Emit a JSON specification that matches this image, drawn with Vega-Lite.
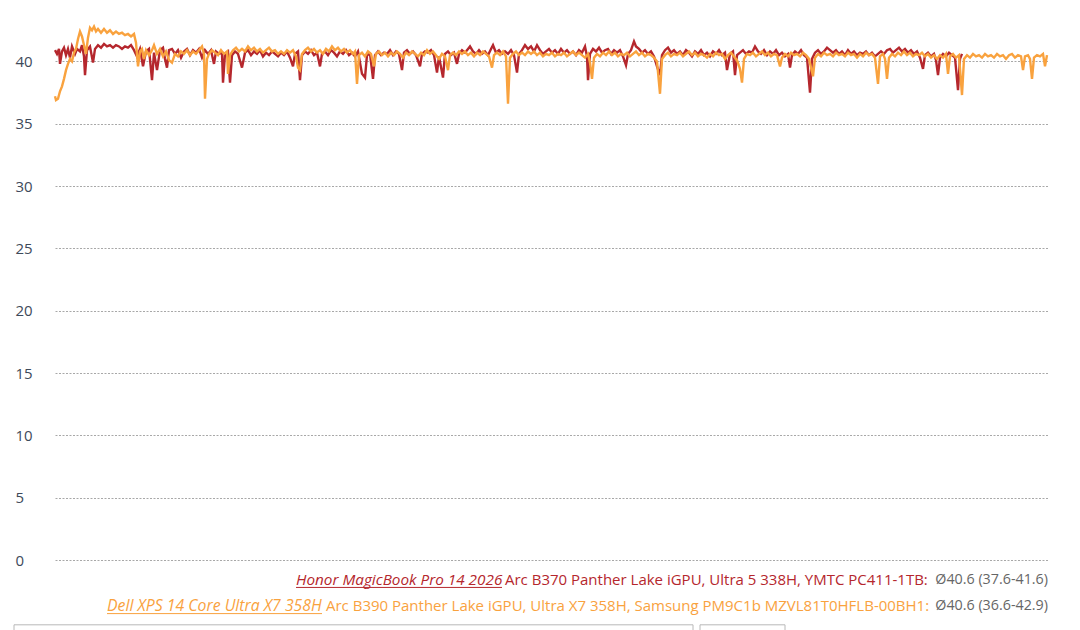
{
  "$schema": "https://vega.github.io/schema/vega-lite/v6.json",
  "width": 993,
  "height": 536,
  "autosize": {"type": "none"},
  "padding": {"left": 55, "top": 24, "right": 32, "bottom": 70},
  "background": "white",
  "config": {"view": {"stroke": null}, "font": "Open Sans"},
  "data": {"values": [{}]},
  "datasets": {
    "honor": [
      {"x":55,"y":40.9},{"x":57,"y":40.6},{"x":59,"y":41.0},{"x":60,"y":39.8},{"x":62,"y":40.8},{"x":64,"y":41.1},{"x":66,"y":40.5},{"x":68,"y":41.0},{"x":70,"y":40.3},{"x":72,"y":41.2},{"x":75,"y":40.6},{"x":77,"y":41.0},{"x":80,"y":40.8},{"x":82,"y":41.3},{"x":84,"y":40.4},{"x":85,"y":38.9},{"x":87,"y":40.9},{"x":90,"y":41.2},{"x":93,"y":39.9},{"x":95,"y":41.0},{"x":98,"y":41.3},{"x":101,"y":41.1},{"x":104,"y":41.4},{"x":107,"y":41.2},{"x":110,"y":41.3},{"x":113,"y":41.1},{"x":116,"y":41.3},{"x":119,"y":41.2},{"x":122,"y":41.0},{"x":125,"y":41.2},{"x":128,"y":41.1},{"x":131,"y":41.3},{"x":134,"y":40.9},{"x":137,"y":40.4},{"x":140,"y":41.0},{"x":143,"y":39.6},{"x":146,"y":40.8},{"x":149,"y":41.0},{"x":152,"y":38.5},{"x":154,"y":40.7},{"x":157,"y":39.3},{"x":160,"y":40.9},{"x":163,"y":41.1},{"x":165,"y":40.2},{"x":167,"y":39.5},{"x":169,"y":40.9},{"x":172,"y":41.0},{"x":175,"y":40.6},{"x":178,"y":40.9},{"x":181,"y":40.3},{"x":184,"y":40.8},{"x":187,"y":41.0},{"x":190,"y":40.5},{"x":193,"y":40.9},{"x":196,"y":40.7},{"x":199,"y":41.0},{"x":202,"y":40.3},{"x":205,"y":40.9},{"x":208,"y":40.6},{"x":211,"y":40.9},{"x":214,"y":39.8},{"x":216,"y":40.8},{"x":219,"y":40.6},
      {"x":222,"y":40.7},{"x":223,"y":38.3},{"x":225,"y":40.6},{"x":228,"y":40.8},{"x":230,"y":38.3},{"x":232,"y":40.5},{"x":235,"y":40.8},{"x":238,"y":40.6},{"x":242,"y":39.5},{"x":245,"y":40.7},{"x":248,"y":40.9},{"x":251,"y":40.5},{"x":254,"y":40.8},{"x":257,"y":40.6},{"x":260,"y":40.9},{"x":263,"y":40.4},{"x":266,"y":40.7},{"x":269,"y":40.5},{"x":272,"y":40.8},{"x":275,"y":40.6},{"x":278,"y":40.4},{"x":281,"y":40.7},{"x":284,"y":40.5},{"x":287,"y":40.8},{"x":290,"y":40.3},{"x":293,"y":39.6},{"x":295,"y":40.6},{"x":298,"y":40.8},{"x":300,"y":38.5},{"x":302,"y":40.5},{"x":305,"y":40.8},{"x":308,"y":40.6},{"x":311,"y":40.9},{"x":314,"y":40.5},{"x":317,"y":40.7},{"x":320,"y":39.6},{"x":322,"y":40.6},{"x":325,"y":40.8},{"x":328,"y":40.5},{"x":331,"y":40.9},{"x":334,"y":40.7},{"x":337,"y":40.4},{"x":340,"y":40.8},{"x":343,"y":40.6},{"x":346,"y":40.9},{"x":349,"y":40.5},{"x":352,"y":40.7},{"x":355,"y":40.4},{"x":358,"y":40.8},{"x":362,"y":39.0},{"x":365,"y":38.7},{"x":367,"y":40.5},{"x":370,"y":40.6},{"x":373,"y":38.6},{"x":375,"y":40.5},{"x":378,"y":40.8},{"x":381,"y":40.5},{"x":384,"y":40.7},
      {"x":387,"y":40.6},{"x":390,"y":40.9},{"x":393,"y":40.5},{"x":396,"y":40.8},{"x":399,"y":40.6},{"x":402,"y":39.3},{"x":404,"y":40.7},{"x":407,"y":40.9},{"x":410,"y":40.6},{"x":413,"y":40.8},{"x":416,"y":40.5},{"x":420,"y":39.6},{"x":422,"y":40.6},{"x":425,"y":40.8},{"x":428,"y":40.7},{"x":431,"y":40.9},{"x":434,"y":40.5},{"x":437,"y":39.1},{"x":439,"y":40.4},{"x":443,"y":38.7},{"x":445,"y":40.6},{"x":448,"y":40.8},{"x":451,"y":40.5},{"x":454,"y":40.7},{"x":457,"y":39.8},{"x":459,"y":40.6},{"x":462,"y":40.9},{"x":465,"y":40.7},{"x":468,"y":41.0},{"x":470,"y":41.2},{"x":473,"y":40.8},{"x":476,"y":40.6},{"x":479,"y":40.9},{"x":482,"y":40.6},{"x":485,"y":40.8},{"x":488,"y":40.5},{"x":491,"y":41.0},{"x":493,"y":41.3},{"x":496,"y":40.7},{"x":499,"y":40.9},{"x":502,"y":40.6},{"x":505,"y":40.8},{"x":508,"y":40.6},{"x":511,"y":40.9},{"x":514,"y":40.5},{"x":517,"y":39.1},{"x":519,"y":40.6},{"x":522,"y":40.9},{"x":525,"y":41.3},{"x":528,"y":41.0},{"x":531,"y":41.2},{"x":534,"y":40.8},{"x":537,"y":41.3},{"x":540,"y":40.9},{"x":543,"y":40.6},{"x":546,"y":40.8},
      {"x":549,"y":41.0},{"x":552,"y":40.7},{"x":555,"y":40.9},{"x":558,"y":40.6},{"x":561,"y":41.0},{"x":564,"y":40.7},{"x":567,"y":40.9},{"x":570,"y":40.6},{"x":573,"y":40.8},{"x":576,"y":40.5},{"x":579,"y":40.9},{"x":582,"y":40.7},{"x":585,"y":41.2},{"x":587,"y":40.4},{"x":588,"y":38.5},{"x":590,"y":40.6},{"x":593,"y":41.0},{"x":596,"y":40.8},{"x":599,"y":41.1},{"x":602,"y":40.7},{"x":605,"y":40.9},{"x":608,"y":41.0},{"x":611,"y":40.6},{"x":614,"y":40.9},{"x":617,"y":40.7},{"x":620,"y":40.9},{"x":623,"y":40.4},{"x":626,"y":39.7},{"x":628,"y":40.6},{"x":631,"y":40.9},{"x":634,"y":41.6},{"x":636,"y":41.2},{"x":639,"y":41.0},{"x":642,"y":40.7},{"x":645,"y":40.9},{"x":648,"y":40.6},{"x":651,"y":40.8},{"x":654,"y":40.4},{"x":657,"y":39.6},{"x":660,"y":38.9},{"x":662,"y":40.5},{"x":665,"y":40.9},{"x":668,"y":41.1},{"x":671,"y":40.7},{"x":674,"y":40.9},{"x":677,"y":40.6},{"x":680,"y":40.8},{"x":683,"y":40.5},{"x":686,"y":40.9},{"x":689,"y":40.7},{"x":692,"y":40.4},{"x":695,"y":40.8},{"x":698,"y":40.6},{"x":701,"y":40.9},{"x":704,"y":40.5},{"x":707,"y":40.7},{"x":710,"y":40.4},
      {"x":713,"y":40.8},{"x":716,"y":40.6},{"x":719,"y":40.9},{"x":722,"y":40.5},{"x":725,"y":40.7},{"x":727,"y":39.3},{"x":730,"y":40.6},{"x":733,"y":40.8},{"x":735,"y":38.9},{"x":737,"y":40.5},{"x":740,"y":40.7},{"x":743,"y":40.9},{"x":746,"y":40.6},{"x":749,"y":40.8},{"x":752,"y":40.7},{"x":755,"y":41.2},{"x":758,"y":40.8},{"x":761,"y":40.6},{"x":764,"y":40.9},{"x":767,"y":40.5},{"x":770,"y":40.8},{"x":773,"y":40.6},{"x":776,"y":40.9},{"x":779,"y":40.5},{"x":782,"y":40.7},{"x":785,"y":40.4},{"x":788,"y":40.6},{"x":790,"y":39.5},{"x":792,"y":40.5},{"x":795,"y":40.8},{"x":798,"y":40.6},{"x":801,"y":40.9},{"x":804,"y":40.5},{"x":807,"y":40.3},{"x":810,"y":37.5},{"x":812,"y":40.2},{"x":815,"y":40.7},{"x":818,"y":40.9},{"x":821,"y":40.6},{"x":824,"y":40.8},{"x":827,"y":41.1},{"x":830,"y":40.9},{"x":833,"y":40.7},{"x":836,"y":40.9},{"x":839,"y":40.6},{"x":842,"y":40.8},{"x":845,"y":40.5},{"x":848,"y":40.9},{"x":851,"y":40.6},{"x":854,"y":40.8},{"x":857,"y":40.5},{"x":860,"y":40.7},{"x":863,"y":40.6},{"x":866,"y":40.8},{"x":869,"y":40.5},{"x":872,"y":40.7},{"x":875,"y":40.4},{"x":878,"y":40.6},
      {"x":881,"y":40.8},{"x":884,"y":40.6},{"x":887,"y":40.9},{"x":890,"y":41.0},{"x":893,"y":40.7},{"x":896,"y":40.9},{"x":899,"y":41.1},{"x":902,"y":40.8},{"x":905,"y":41.0},{"x":908,"y":40.7},{"x":911,"y":40.9},{"x":914,"y":40.6},{"x":917,"y":40.8},{"x":920,"y":40.3},{"x":923,"y":39.4},{"x":925,"y":40.5},{"x":928,"y":40.7},{"x":931,"y":40.4},{"x":934,"y":40.6},{"x":936,"y":40.1},{"x":938,"y":38.9},{"x":940,"y":40.3},{"x":943,"y":40.6},{"x":946,"y":40.4},{"x":949,"y":40.7},{"x":952,"y":40.5},{"x":955,"y":40.3},{"x":958,"y":37.7},{"x":960,"y":40.2},{"x":962,"y":40.6}
    ],
    "dell": [
      {"x":55,"y":37.2},{"x":56,"y":36.9},{"x":58,"y":37.0},{"x":60,"y":37.6},{"x":62,"y":38.0},{"x":64,"y":38.6},{"x":66,"y":39.3},{"x":68,"y":39.8},{"x":70,"y":40.2},{"x":72,"y":40.0},{"x":74,"y":40.7},{"x":76,"y":41.0},{"x":78,"y":41.8},{"x":80,"y":42.4},{"x":82,"y":42.0},{"x":84,"y":41.3},{"x":86,"y":40.6},{"x":88,"y":41.9},{"x":90,"y":42.7},{"x":92,"y":42.5},{"x":94,"y":42.8},{"x":96,"y":42.4},{"x":98,"y":42.6},{"x":101,"y":42.3},{"x":104,"y":42.6},{"x":107,"y":42.3},{"x":110,"y":42.5},{"x":113,"y":42.2},{"x":116,"y":42.4},{"x":119,"y":42.2},{"x":122,"y":42.3},{"x":125,"y":42.1},{"x":128,"y":42.2},{"x":131,"y":42.0},{"x":134,"y":42.2},{"x":136,"y":41.5},{"x":138,"y":39.6},{"x":140,"y":40.8},{"x":142,"y":41.0},{"x":144,"y":40.2},{"x":146,"y":40.9},{"x":149,"y":40.5},{"x":152,"y":40.9},{"x":154,"y":41.3},{"x":157,"y":40.6},{"x":160,"y":41.0},{"x":163,"y":40.4},{"x":166,"y":40.8},{"x":169,"y":40.1},{"x":172,"y":39.9},{"x":175,"y":40.6},{"x":178,"y":40.4},{"x":181,"y":40.8},{"x":184,"y":40.6},{"x":187,"y":40.9},{"x":190,"y":40.5},{"x":193,"y":40.8},{"x":196,"y":40.6},{"x":199,"y":40.9},{"x":202,"y":41.2},{"x":204,"y":40.6},{"x":205,"y":37.0},{"x":207,"y":40.2},{"x":209,"y":40.6},{"x":212,"y":40.9},{"x":215,"y":40.7},{"x":218,"y":40.5},
      {"x":221,"y":40.9},{"x":224,"y":40.6},{"x":227,"y":40.8},{"x":228,"y":39.0},{"x":230,"y":40.5},{"x":233,"y":40.9},{"x":236,"y":41.1},{"x":239,"y":40.8},{"x":242,"y":41.0},{"x":245,"y":40.8},{"x":248,"y":41.2},{"x":251,"y":40.9},{"x":254,"y":41.1},{"x":257,"y":40.8},{"x":260,"y":41.0},{"x":263,"y":40.7},{"x":266,"y":40.9},{"x":269,"y":41.1},{"x":272,"y":40.8},{"x":275,"y":40.9},{"x":278,"y":40.6},{"x":281,"y":40.8},{"x":284,"y":40.6},{"x":287,"y":40.9},{"x":290,"y":40.7},{"x":293,"y":40.9},{"x":296,"y":40.4},{"x":298,"y":39.5},{"x":300,"y":39.3},{"x":302,"y":40.6},{"x":305,"y":40.9},{"x":308,"y":41.1},{"x":311,"y":40.8},{"x":314,"y":41.0},{"x":317,"y":40.7},{"x":320,"y":40.9},{"x":323,"y":40.6},{"x":326,"y":41.0},{"x":329,"y":40.8},{"x":332,"y":41.2},{"x":335,"y":40.9},{"x":338,"y":41.1},{"x":341,"y":40.8},{"x":344,"y":41.0},{"x":347,"y":40.7},{"x":350,"y":40.9},{"x":353,"y":40.6},{"x":355,"y":40.8},{"x":357,"y":38.2},{"x":359,"y":40.5},{"x":362,"y":40.7},{"x":365,"y":40.4},{"x":368,"y":40.8},{"x":371,"y":40.6},{"x":374,"y":39.6},{"x":376,"y":40.6},{"x":379,"y":40.8},{"x":382,"y":40.5},{"x":385,"y":40.7},
      {"x":388,"y":40.4},{"x":391,"y":40.7},{"x":394,"y":40.5},{"x":397,"y":40.8},{"x":400,"y":40.6},{"x":403,"y":40.3},{"x":406,"y":40.7},{"x":409,"y":40.5},{"x":412,"y":40.8},{"x":415,"y":40.6},{"x":418,"y":40.4},{"x":421,"y":40.7},{"x":424,"y":40.5},{"x":427,"y":40.9},{"x":430,"y":40.6},{"x":433,"y":40.8},{"x":436,"y":40.5},{"x":439,"y":40.2},{"x":442,"y":40.6},{"x":445,"y":40.4},{"x":448,"y":39.3},{"x":450,"y":40.5},{"x":453,"y":40.7},{"x":456,"y":40.5},{"x":459,"y":40.8},{"x":462,"y":40.6},{"x":465,"y":40.8},{"x":468,"y":40.5},{"x":471,"y":40.7},{"x":474,"y":40.4},{"x":477,"y":40.7},{"x":480,"y":40.5},{"x":483,"y":40.8},{"x":486,"y":40.6},{"x":489,"y":40.4},{"x":492,"y":39.5},{"x":494,"y":40.5},{"x":497,"y":40.7},{"x":500,"y":40.5},{"x":503,"y":40.8},{"x":506,"y":40.4},{"x":508,"y":36.6},{"x":510,"y":40.3},{"x":513,"y":40.6},{"x":516,"y":40.8},{"x":519,"y":40.5},{"x":522,"y":40.7},{"x":525,"y":40.5},{"x":528,"y":40.8},{"x":531,"y":40.6},{"x":534,"y":40.8},{"x":537,"y":40.5},{"x":540,"y":40.7},{"x":543,"y":40.4},{"x":546,"y":40.6},
      {"x":549,"y":40.5},{"x":552,"y":40.7},{"x":555,"y":40.4},{"x":558,"y":40.6},{"x":561,"y":40.5},{"x":564,"y":40.7},{"x":567,"y":40.4},{"x":570,"y":40.6},{"x":573,"y":40.8},{"x":576,"y":40.5},{"x":579,"y":40.7},{"x":582,"y":40.5},{"x":585,"y":40.3},{"x":588,"y":40.6},{"x":590,"y":39.9},{"x":592,"y":38.6},{"x":594,"y":40.3},{"x":597,"y":40.6},{"x":600,"y":40.4},{"x":603,"y":40.7},{"x":606,"y":40.5},{"x":609,"y":40.8},{"x":612,"y":40.5},{"x":615,"y":40.7},{"x":618,"y":40.4},{"x":621,"y":40.6},{"x":624,"y":40.5},{"x":627,"y":40.7},{"x":630,"y":40.4},{"x":633,"y":40.6},{"x":636,"y":40.8},{"x":639,"y":40.5},{"x":642,"y":40.7},{"x":645,"y":40.4},{"x":648,"y":40.6},{"x":651,"y":40.5},{"x":654,"y":40.3},{"x":657,"y":40.0},{"x":660,"y":37.4},{"x":662,"y":40.2},{"x":665,"y":40.5},{"x":668,"y":40.7},{"x":671,"y":40.4},{"x":674,"y":40.6},{"x":677,"y":40.5},{"x":680,"y":40.7},{"x":683,"y":40.4},{"x":686,"y":40.6},{"x":689,"y":40.8},{"x":692,"y":40.5},{"x":695,"y":40.7},{"x":698,"y":40.4},{"x":701,"y":40.6},{"x":704,"y":40.5},{"x":707,"y":40.3},{"x":710,"y":40.6},
      {"x":713,"y":40.4},{"x":716,"y":40.7},{"x":719,"y":40.5},{"x":722,"y":40.6},{"x":725,"y":40.2},{"x":728,"y":40.5},{"x":731,"y":40.7},{"x":734,"y":40.4},{"x":737,"y":40.1},{"x":740,"y":39.4},{"x":742,"y":38.3},{"x":744,"y":40.2},{"x":747,"y":40.6},{"x":750,"y":40.5},{"x":753,"y":40.7},{"x":756,"y":40.4},{"x":759,"y":40.6},{"x":762,"y":40.8},{"x":765,"y":40.5},{"x":768,"y":40.7},{"x":771,"y":40.4},{"x":774,"y":40.6},{"x":777,"y":40.5},{"x":780,"y":39.6},{"x":782,"y":40.3},{"x":785,"y":40.6},{"x":788,"y":40.4},{"x":791,"y":40.7},{"x":794,"y":40.5},{"x":797,"y":40.6},{"x":800,"y":40.4},{"x":803,"y":40.7},{"x":806,"y":40.5},{"x":809,"y":40.2},{"x":813,"y":38.8},{"x":815,"y":40.3},{"x":818,"y":40.6},{"x":821,"y":40.4},{"x":824,"y":40.7},{"x":827,"y":40.5},{"x":830,"y":40.6},{"x":833,"y":40.4},{"x":836,"y":40.7},{"x":839,"y":40.5},{"x":842,"y":40.6},{"x":845,"y":40.4},{"x":848,"y":40.7},{"x":851,"y":40.5},{"x":854,"y":40.6},{"x":857,"y":40.3},{"x":860,"y":40.6},{"x":863,"y":40.4},{"x":866,"y":40.7},{"x":869,"y":40.5},{"x":872,"y":40.6},{"x":875,"y":40.3},{"x":878,"y":38.2},
      {"x":880,"y":40.4},{"x":883,"y":40.6},{"x":885,"y":40.2},{"x":887,"y":38.6},{"x":889,"y":40.3},{"x":892,"y":40.6},{"x":895,"y":40.4},{"x":898,"y":40.7},{"x":901,"y":40.5},{"x":904,"y":40.8},{"x":907,"y":40.5},{"x":910,"y":40.7},{"x":913,"y":40.4},{"x":916,"y":40.6},{"x":919,"y":40.5},{"x":922,"y":40.7},{"x":925,"y":40.4},{"x":928,"y":40.6},{"x":931,"y":40.3},{"x":934,"y":40.5},{"x":937,"y":40.2},{"x":940,"y":40.5},{"x":943,"y":40.3},{"x":946,"y":40.6},{"x":948,"y":39.0},{"x":950,"y":40.4},{"x":953,"y":40.6},{"x":956,"y":40.3},{"x":959,"y":40.5},{"x":962,"y":37.3},{"x":964,"y":40.2},{"x":967,"y":40.5},{"x":970,"y":40.3},{"x":973,"y":40.6},{"x":976,"y":40.4},{"x":979,"y":40.5},{"x":982,"y":40.3},{"x":985,"y":40.6},{"x":988,"y":40.4},{"x":991,"y":40.5},{"x":994,"y":40.3},{"x":997,"y":40.6},{"x":1000,"y":40.4},{"x":1003,"y":40.5},{"x":1006,"y":40.2},{"x":1009,"y":40.5},{"x":1012,"y":40.6},{"x":1015,"y":40.3},{"x":1018,"y":40.5},{"x":1021,"y":40.4},{"x":1023,"y":39.3},{"x":1025,"y":40.4},{"x":1028,"y":40.5},{"x":1030,"y":40.2},{"x":1032,"y":38.6},{"x":1034,"y":40.3},{"x":1037,"y":40.5},{"x":1040,"y":40.4},{"x":1043,"y":40.6},{"x":1045,"y":39.6},{"x":1047,"y":40.5}
    ]
  },
  "layer": [
    {
      "data": {"name": "honor"},
      "mark": {"type": "line", "color": "#b5272d", "strokeWidth": 2.4},
      "encoding": {
        "x": {"field": "x", "type": "quantitative", "scale": {"domain": [55, 1048], "nice": false, "zero": false}, "axis": null},
        "y": {"field": "y", "type": "quantitative", "scale": {"domain": [0, 43], "nice": false, "zero": true},
          "axis": {"values": [0, 5, 10, 15, 20, 25, 30, 35, 40], "title": null, "domain": false, "ticks": false, "tickSize": 0, "labelPadding": 40, "labelAlign": "left", "labelBaseline": "middle", "labelFont": "Open Sans", "labelFontSize": 15, "labelColor": "#3e4a5a", "grid": true, "gridColor": "#a8a8a8", "gridDash": [2, 1.5], "gridWidth": 1}}
      }
    },
    {
      "data": {"name": "dell"},
      "mark": {"type": "line", "color": "#f9a23e", "strokeWidth": 2.4},
      "encoding": {
        "x": {"field": "x", "type": "quantitative"},
        "y": {"field": "y", "type": "quantitative"}
      }
    },
    {
      "mark": {"type": "text", "text": "Honor MagicBook Pro 14 2026", "align": "left", "baseline": "middle", "fontStyle": "italic", "fontSize": 15.3, "color": "#b5272d"},
      "encoding": {"x": {"datum": 296, "type": "quantitative"}, "y": {"datum": -1.6, "type": "quantitative"}}
    },
    {
      "mark": {"type": "rule", "color": "#b5272d", "strokeWidth": 1},
      "encoding": {"x": {"datum": 296, "type": "quantitative"}, "x2": {"datum": 502}, "y": {"datum": -2.2, "type": "quantitative"}}
    },
    {
      "mark": {"type": "text", "text": "Arc B370 Panther Lake iGPU, Ultra 5 338H, YMTC PC411-1TB:", "align": "left", "baseline": "middle", "fontSize": 15, "color": "#b5272d"},
      "encoding": {"x": {"datum": 505, "type": "quantitative"}, "y": {"datum": -1.6, "type": "quantitative"}}
    },
    {
      "mark": {"type": "text", "text": "Ø40.6 (37.6-41.6)", "align": "right", "baseline": "middle", "fontSize": 14.3, "color": "#666666"},
      "encoding": {"x": {"datum": 1048, "type": "quantitative"}, "y": {"datum": -1.6, "type": "quantitative"}}
    },
    {
      "mark": {"type": "text", "text": "Dell XPS 14 Core Ultra X7 358H", "align": "left", "baseline": "middle", "fontStyle": "italic", "fontSize": 15.8, "color": "#f9a23e"},
      "encoding": {"x": {"datum": 107, "type": "quantitative"}, "y": {"datum": -3.7, "type": "quantitative"}}
    },
    {
      "mark": {"type": "rule", "color": "#f9a23e", "strokeWidth": 1},
      "encoding": {"x": {"datum": 107, "type": "quantitative"}, "x2": {"datum": 322}, "y": {"datum": -4.3, "type": "quantitative"}}
    },
    {
      "mark": {"type": "text", "text": "Arc B390 Panther Lake iGPU, Ultra X7 358H, Samsung PM9C1b MZVL81T0HFLB-00BH1:", "align": "left", "baseline": "middle", "fontSize": 15, "color": "#f9a23e"},
      "encoding": {"x": {"datum": 326, "type": "quantitative"}, "y": {"datum": -3.7, "type": "quantitative"}}
    },
    {
      "mark": {"type": "text", "text": "Ø40.6 (36.6-42.9)", "align": "right", "baseline": "middle", "fontSize": 14.3, "color": "#666666"},
      "encoding": {"x": {"datum": 1048, "type": "quantitative"}, "y": {"datum": -3.7, "type": "quantitative"}}
    },
    {
      "mark": {"type": "rect", "fill": null, "fillOpacity": 0, "stroke": "#b8b8b8", "strokeWidth": 1},
      "encoding": {"x": {"datum": 14, "type": "quantitative"}, "x2": {"datum": 693}, "y": {"datum": -5.2, "type": "quantitative"}, "y2": {"datum": -8}}
    },
    {
      "mark": {"type": "rect", "fill": null, "fillOpacity": 0, "stroke": "#b8b8b8", "strokeWidth": 1},
      "encoding": {"x": {"datum": 700, "type": "quantitative"}, "x2": {"datum": 785}, "y": {"datum": -5.2, "type": "quantitative"}, "y2": {"datum": -8}}
    }
  ]
}
